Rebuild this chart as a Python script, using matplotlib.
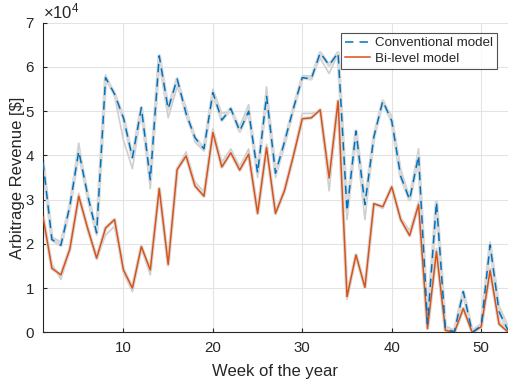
import numpy as np
import matplotlib
matplotlib.use("Agg")
import matplotlib.pyplot as plt
from matplotlib.ticker import ScalarFormatter

plt.rcParams['font.family'] = ['Liberation Sans', 'DejaVu Sans']
plt.rcParams['mathtext.fontset'] = 'custom'
plt.rcParams['mathtext.rm'] = 'Liberation Sans'
plt.rcParams['mathtext.it'] = 'Liberation Sans'

weeks = list(range(1, 54))

# values in units of 1e4 $
conventional = [3.85, 2.10, 1.97, 2.85, 4.10, 3.10, 2.25, 5.76, 5.39, 4.85,
                3.95, 5.08, 3.45, 6.25, 5.05, 5.73, 4.95, 4.40, 4.15, 5.42,
                4.80, 5.06, 4.55, 5.00, 3.60, 5.35, 3.60, 4.30, 5.06, 5.76,
                5.73, 6.32, 6.04, 6.32, 2.74, 4.55, 2.89, 4.42, 5.23, 4.78,
                3.53, 3.00, 4.00, 0.20, 2.95, 0.07, 0.02, 0.92, 0.00, 0.15,
                1.98, 0.47, 0.05]
bilevel = [2.62, 1.45, 1.30, 1.88, 3.08, 2.35, 1.68, 2.36, 2.55, 1.41,
           1.00, 1.94, 1.41, 3.25, 1.54, 3.68, 3.99, 3.31, 3.08, 4.52,
           3.74, 4.06, 3.67, 4.03, 2.69, 4.18, 2.69, 3.20, 3.99, 4.83,
           4.85, 5.03, 3.49, 5.23, 0.81, 1.75, 1.02, 2.91, 2.84, 3.29,
           2.55, 2.19, 2.89, 0.09, 1.83, 0.05, 0.00, 0.54, 0.00, 0.13,
           1.40, 0.19, 0.01]
conv_scenario = [3.95, 2.15, 2.05, 2.90, 4.28, 3.00, 2.20, 5.82, 5.35, 4.35,
                 3.70, 5.00, 3.25, 6.10, 4.85, 5.55, 5.10, 4.30, 4.10, 5.50,
                 4.95, 5.00, 4.65, 5.15, 3.50, 5.55, 3.50, 4.20, 5.00, 5.80,
                 5.80, 6.20, 5.85, 6.30, 2.55, 4.40, 2.55, 4.40, 5.20, 4.90,
                 3.70, 3.05, 4.15, 0.30, 2.85, 0.15, 0.05, 0.85, 0.05, 0.20,
                 2.05, 0.60, 0.15]
bi_scenario = [2.50, 1.55, 1.20, 1.85, 3.15, 2.30, 1.65, 2.20, 2.40, 1.35,
               0.92, 1.90, 1.30, 3.20, 1.50, 3.72, 4.08, 3.40, 3.18, 4.60,
               3.85, 4.15, 3.75, 4.15, 2.75, 4.25, 2.75, 3.25, 4.00, 4.95,
               4.95, 5.00, 3.20, 5.20, 0.75, 1.75, 1.00, 2.90, 2.80, 3.30,
               2.60, 2.30, 2.95, 0.15, 1.90, 0.08, 0.03, 0.50, 0.03, 0.15,
               1.45, 0.25, 0.05]

scale = 1e4
x = np.array(weeks)

fig = plt.figure(figsize=(5.08, 3.83), dpi=100)
ax = fig.add_axes([0.0846, 0.132, 0.9154, 0.8087])

gray = '#cfcfcf'
for s in (conv_scenario, bi_scenario):
    ax.plot(x, np.array(s) * scale, color=gray, lw=1.2, zorder=2)
ax.plot(x, np.array(conventional) * scale, color='#d9d9d9', lw=2.6, zorder=2,
        solid_joinstyle='round')
ax.plot(x, np.array(bilevel) * scale, color='#d9d9d9', lw=2.6, zorder=2,
        solid_joinstyle='round')

ax.plot(x, np.array(conventional) * scale, color='#0072BD', lw=1.1,
        linestyle=(0, (5.5, 4)), label='Conventional model', zorder=4)
ax.plot(x, np.array(bilevel) * scale, color='#D95319', lw=1.1,
        label='Bi-level model', zorder=3)

ax.set_xlim(1, 53)
ax.set_ylim(0, 7e4)
ax.set_xticks([10, 20, 30, 40, 50])
ax.set_yticks(np.arange(0, 8) * 1e4)

fmt = ScalarFormatter(useMathText=True)
fmt.set_powerlimits((0, 0))
ax.yaxis.set_major_formatter(fmt)
ax.yaxis.get_offset_text().set_fontsize(12)
ax.yaxis.get_offset_text().set_color('#262626')

ax.grid(True, color='#e3e3e3', lw=0.8, zorder=0)
ax.set_axisbelow(True)
for side in ('top', 'right'):
    ax.spines[side].set_visible(False)
for side in ('left', 'bottom'):
    ax.spines[side].set_color('#262626')
    ax.spines[side].set_linewidth(0.8)
ax.tick_params(direction='in', length=3, width=0.8, colors='#262626',
               labelsize=10.8, pad=6)

ax.set_xlabel('Week of the year', fontsize=12, color='#262626', labelpad=7)
ax.set_ylabel(r'Arbitrage Revenue [\$]', fontsize=12, color='#262626', labelpad=0)

leg = ax.legend(loc='upper right', bbox_to_anchor=(0.976, 0.967), borderaxespad=0,
                fontsize=9.6, frameon=True, fancybox=False, handlelength=1.9,
                handletextpad=0.35, borderpad=0.3, labelspacing=0.25)
leg.get_frame().set_edgecolor('#262626')
leg.get_frame().set_linewidth(0.8)
for t in leg.get_texts():
    t.set_color('#262626')

fig.savefig('out.png', dpi=100)
